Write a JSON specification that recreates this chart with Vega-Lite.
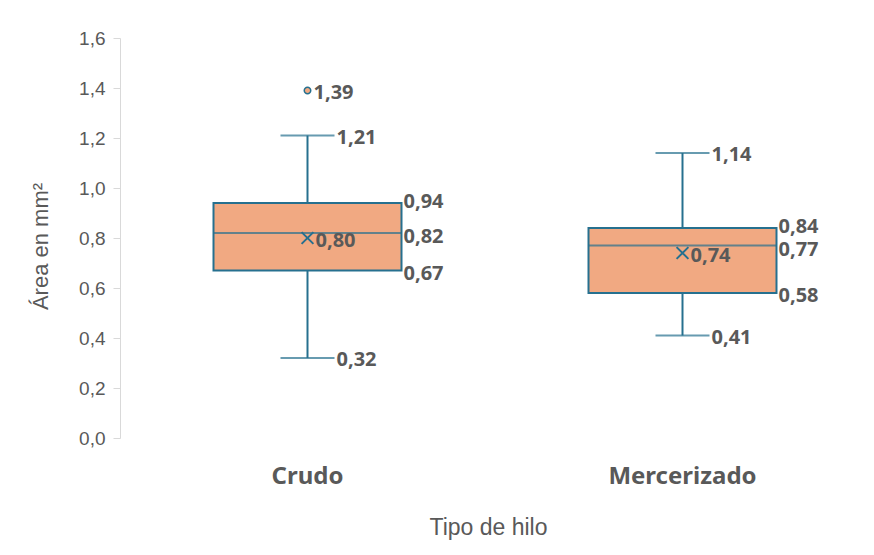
{
  "$schema": "https://vega.github.io/schema/vega-lite/v6.json",
  "width": 750,
  "height": 400,
  "autosize": {"type": "none"},
  "padding": {"left": 120, "top": 38, "right": 4, "bottom": 117},
  "background": "white",
  "datasets": {
    "resumen": [
      {"tipo": "Crudo", "min": 0.32, "q1": 0.67, "mediana": 0.82, "q3": 0.94, "max": 1.21, "media": 0.80},
      {"tipo": "Mercerizado", "min": 0.41, "q1": 0.58, "mediana": 0.77, "q3": 0.84, "max": 1.14, "media": 0.74}
    ],
    "atipicos": [
      {"tipo": "Crudo", "valor": 1.39}
    ]
  },
  "data": {"name": "resumen"},
  "encoding": {
    "x": {
      "field": "tipo",
      "type": "nominal",
      "title": "Tipo de hilo",
      "scale": {"paddingInner": 0, "paddingOuter": 0}
    }
  },
  "layer": [
    {
      "mark": {"type": "rule", "color": "#26708F", "strokeWidth": 2},
      "encoding": {
        "y": {
          "field": "min",
          "type": "quantitative",
          "title": "Área en mm²",
          "scale": {"domain": [0, 1.6], "nice": false},
          "axis": {"values": [0, 0.2, 0.4, 0.6, 0.8, 1.0, 1.2, 1.4, 1.6], "format": ".1f"}
        },
        "y2": {"field": "max"}
      }
    },
    {
      "mark": {"type": "bar", "size": 188, "fill": "#F1A982", "stroke": "#26708F", "strokeWidth": 2},
      "encoding": {
        "y": {"field": "q1", "type": "quantitative", "title": "Área en mm²"},
        "y2": {"field": "q3"}
      }
    },
    {
      "mark": {"type": "tick", "size": 188, "thickness": 2, "color": "#26708F"},
      "encoding": {
        "y": {"field": "mediana", "type": "quantitative", "title": "Área en mm²"}
      }
    },
    {
      "mark": {"type": "tick", "size": 54, "thickness": 2, "color": "#26708F"},
      "encoding": {
        "y": {"field": "min", "type": "quantitative", "title": "Área en mm²"}
      }
    },
    {
      "mark": {"type": "tick", "size": 54, "thickness": 2, "color": "#26708F"},
      "encoding": {
        "y": {"field": "max", "type": "quantitative", "title": "Área en mm²"}
      }
    },
    {
      "mark": {"type": "point", "shape": "M-1,-1L1,1M-1,1L1,-1", "filled": false, "stroke": "#26708F", "strokeWidth": 2, "size": 140, "opacity": 1},
      "encoding": {
        "y": {"field": "media", "type": "quantitative", "title": "Área en mm²"}
      }
    },
    {
      "data": {"name": "atipicos"},
      "mark": {"type": "point", "shape": "circle", "filled": true, "fill": "#F1A982", "stroke": "#26708F", "strokeWidth": 1.5, "size": 42, "opacity": 1},
      "encoding": {
        "y": {"field": "valor", "type": "quantitative", "title": "Área en mm²"}
      }
    },
    {
      "transform": [{"fold": ["min", "max"], "as": ["medida", "valor"]}],
      "mark": {"type": "text", "align": "left", "baseline": "middle", "dx": 29, "dy": 2, "font": "Noto Sans", "fontWeight": "bold", "fontSize": 20, "color": "#595959"},
      "encoding": {
        "y": {"field": "valor", "type": "quantitative", "title": "Área en mm²"},
        "text": {"field": "valor", "type": "quantitative", "format": ".2f"}
      }
    },
    {
      "mark": {"type": "text", "align": "left", "baseline": "middle", "dx": 96, "dy": 3, "font": "Noto Sans", "fontWeight": "bold", "fontSize": 20, "color": "#595959"},
      "encoding": {
        "y": {"field": "q1", "type": "quantitative", "title": "Área en mm²"},
        "text": {"field": "q1", "type": "quantitative", "format": ".2f"}
      }
    },
    {
      "mark": {"type": "text", "align": "left", "baseline": "middle", "dx": 96, "dy": 4, "font": "Noto Sans", "fontWeight": "bold", "fontSize": 20, "color": "#595959"},
      "encoding": {
        "y": {"field": "mediana", "type": "quantitative", "title": "Área en mm²"},
        "text": {"field": "mediana", "type": "quantitative", "format": ".2f"}
      }
    },
    {
      "mark": {"type": "text", "align": "left", "baseline": "middle", "dx": 96, "dy": -1, "font": "Noto Sans", "fontWeight": "bold", "fontSize": 20, "color": "#595959"},
      "encoding": {
        "y": {"field": "q3", "type": "quantitative", "title": "Área en mm²"},
        "text": {"field": "q3", "type": "quantitative", "format": ".2f"}
      }
    },
    {
      "mark": {"type": "text", "align": "left", "baseline": "middle", "dx": 8, "dy": 3, "font": "Noto Sans", "fontWeight": "bold", "fontSize": 20, "color": "#595959"},
      "encoding": {
        "y": {"field": "media", "type": "quantitative", "title": "Área en mm²"},
        "text": {"field": "media", "type": "quantitative", "format": ".2f"}
      }
    },
    {
      "data": {"name": "atipicos"},
      "mark": {"type": "text", "align": "left", "baseline": "middle", "dx": 6, "dy": 2, "font": "Noto Sans", "fontWeight": "bold", "fontSize": 20, "color": "#595959"},
      "encoding": {
        "y": {"field": "valor", "type": "quantitative", "title": "Área en mm²"},
        "text": {"field": "valor", "type": "quantitative", "format": ".2f"}
      }
    }
  ],
  "config": {
    "locale": {
      "number": {"decimal": ",", "thousands": ".", "grouping": [3], "currency": ["", " €"]}
    },
    "view": {"stroke": null},
    "font": "Liberation Sans",
    "axisY": {
      "grid": false,
      "domainColor": "#D9D9D9",
      "domainWidth": 1,
      "tickColor": "#D9D9D9",
      "tickSize": 7,
      "labelPadding": 8,
      "labelFont": "Liberation Sans",
      "labelFontSize": 19,
      "labelColor": "#595959",
      "titleFont": "Liberation Sans",
      "titleFontSize": 22,
      "titleFontWeight": "normal",
      "titleColor": "#595959",
      "titleX": -80,
      "titleY": 208,
      "titleAngle": -90,
      "titleBaseline": "middle",
      "titleAlign": "center"
    },
    "axisX": {
      "domain": false,
      "ticks": false,
      "labelAngle": 0,
      "labelFont": "Noto Sans",
      "labelFontSize": 24,
      "labelFontWeight": "bold",
      "labelColor": "#595959",
      "labelPadding": 26,
      "titleFont": "Liberation Sans",
      "titleFontSize": 23,
      "titleFontWeight": "normal",
      "titleColor": "#595959",
      "titleX": 368,
      "titleY": 89,
      "titleBaseline": "middle"
    }
  }
}
